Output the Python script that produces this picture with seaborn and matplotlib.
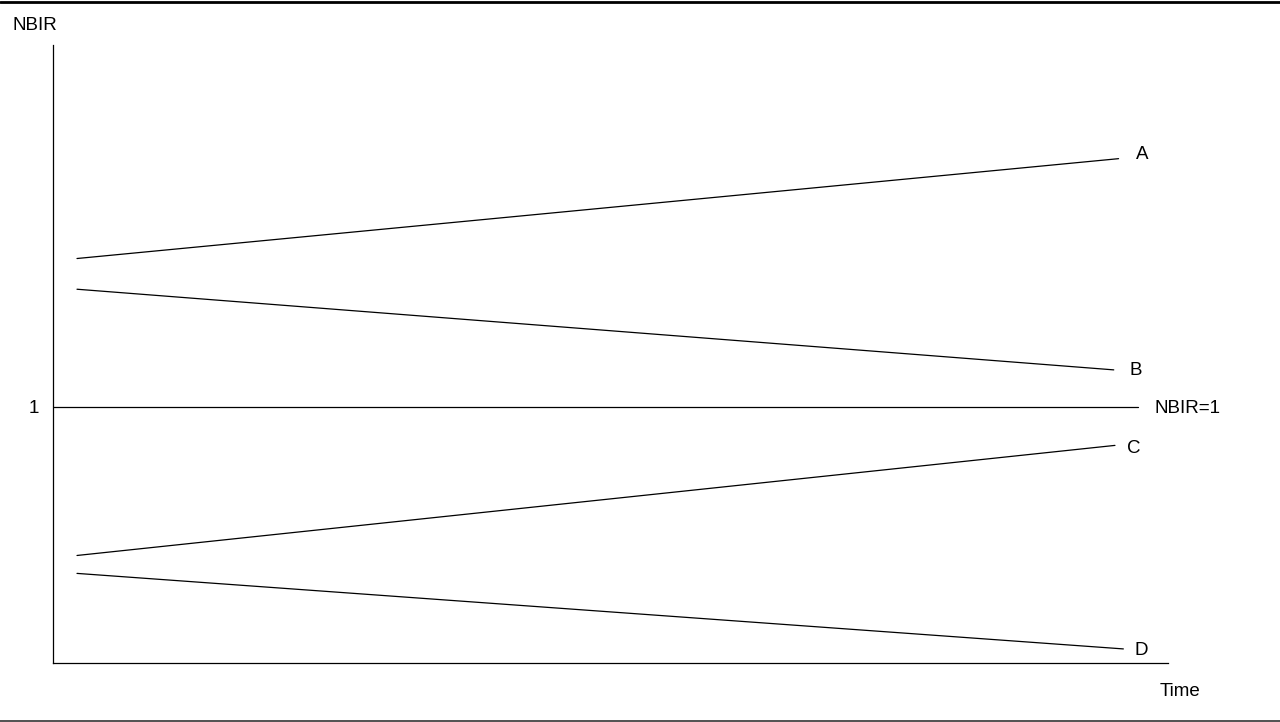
import pandas as pd
import matplotlib.pyplot as plt
import seaborn as sns
from matplotlib.lines import Line2D

# Data: NBIR trends over time (arbitrary units, NBIR=1 is the reference)
series = ["A", "B", "C", "D"]
t_start = [1.0, 1.0, 1.0, 1.0]
t_end = [44.4, 44.2, 44.25, 44.6]
nbir_start = [1.58, 1.46, 0.42, 0.35]
nbir_end = [1.97, 1.145, 0.85, 0.055]
ref_level = 1.0
ref_end = 45.2

rows = []
for s, t0, t1, v0, v1 in zip(series, t_start, t_end, nbir_start, nbir_end):
    rows.append({"series": s, "time": t0, "nbir": v0})
    rows.append({"series": s, "time": t1, "nbir": v1})
df = pd.DataFrame(rows)

sns.set_style("white")
plt.rcParams["font.family"] = ["Liberation Sans", "DejaVu Sans"]
plt.rcParams["text.color"] = "black"

fig = plt.figure(figsize=(12.8, 7.22), dpi=100)
ax = fig.add_axes([53 / 1280, 59 / 722, 1115 / 1280, 618 / 722])

sns.lineplot(data=df, x="time", y="nbir", hue="series", units="series",
             estimator=None, palette=["black"] * 4, linewidth=0.9,
             legend=False, ax=ax)
ax.plot([0, ref_end], [ref_level, ref_level], color="black", linewidth=0.9)

ax.set_xlim(0, 46.46)
ax.set_ylim(0, 2.414)
ax.set_xticks([])
ax.set_yticks([1])
ax.set_yticklabels(["1"], fontsize=13.5, color="black")
ax.tick_params(axis="y", length=0, pad=10)
ax.set_xlabel("")
ax.set_ylabel("")
for side in ["top", "right"]:
    ax.spines[side].set_visible(False)
for side in ["left", "bottom"]:
    ax.spines[side].set_color("black")
    ax.spines[side].set_linewidth(0.9)

# line labels
label_pos = {"A": (45.4, 1.985), "B": (45.1, 1.143), "C": (45.04, 0.838), "D": (45.33, 0.05)}
for s in series:
    x, y = label_pos[s]
    ax.text(x, y, s, ha="center", va="center", fontsize=13.5, clip_on=False)
ax.text(45.9, 0.996, "NBIR=1", ha="left", va="center", fontsize=13.5, clip_on=False)

fig.text(12 / 1280, 1 - 25 / 722, "NBIR", ha="left", va="center", fontsize=13.5)
fig.text(1180 / 1280, 1 - 691 / 722, "Time", ha="center", va="center", fontsize=13.5)

# frame lines at top and bottom of the image
fig.add_artist(Line2D([0, 1], [1 - 1.5 / 722, 1 - 1.5 / 722], color="black", linewidth=2))
fig.add_artist(Line2D([0, 1], [1 - 720.5 / 722, 1 - 720.5 / 722], color="#333333", linewidth=1.2))

fig.savefig("out.png", dpi=100)
